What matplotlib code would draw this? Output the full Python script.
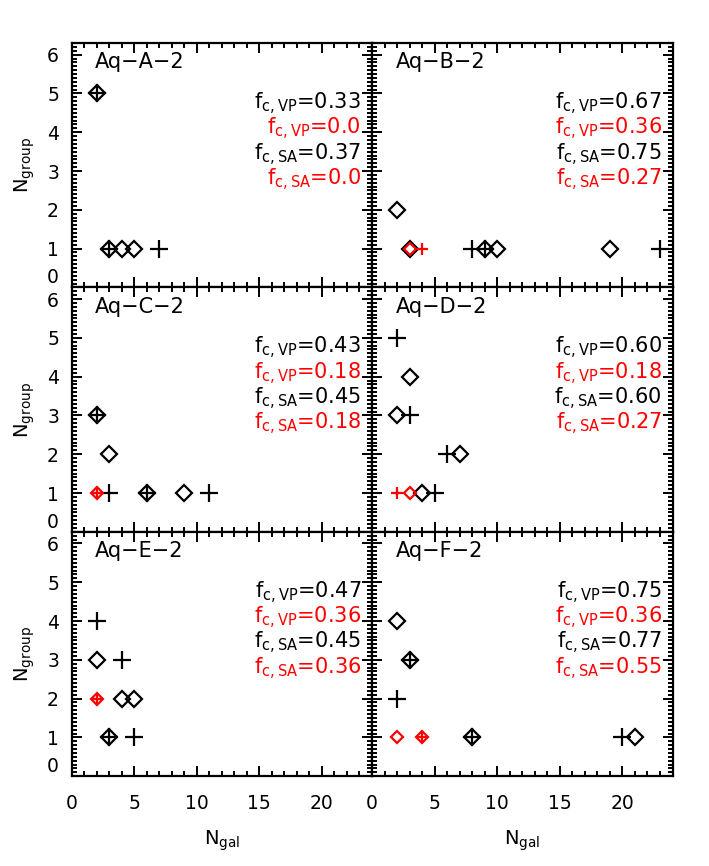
import matplotlib
matplotlib.use('Agg')
import matplotlib.pyplot as plt
from matplotlib.ticker import MultipleLocator

plt.rcParams['font.family'] = ['DejaVu Sans']
plt.rcParams['mathtext.fontset'] = 'dejavusans'
plt.rcParams['mathtext.default'] = 'regular'

names = ['Aq\u2212A\u22122', 'Aq\u2212B\u22122', 'Aq\u2212C\u22122',
         'Aq\u2212D\u22122', 'Aq\u2212E\u22122', 'Aq\u2212F\u22122']

# black diamonds
bd_x = [[2, 3, 4, 5], [2, 3, 9, 10, 19], [2, 3, 6, 9], [3, 2, 7, 4], [2, 4, 5, 3], [2, 3, 8, 21]]
bd_y = [[5, 1, 1, 1], [2, 1, 1, 1, 1], [3, 2, 1, 1], [4, 3, 2, 1], [3, 2, 2, 1], [4, 3, 1, 1]]
# black plus
bp_x = [[2, 3, 7], [8, 9, 23], [2, 3, 6, 11], [2, 3, 6, 5], [2, 4, 3, 5], [3, 2, 8, 20]]
bp_y = [[5, 1, 1], [1, 1, 1], [3, 1, 1, 1], [5, 3, 2, 1], [4, 3, 1, 1], [3, 2, 1, 1]]
# red diamonds
rd_x = [[], [3], [2], [3], [2], [2, 4]]
rd_y = [[], [1], [1], [1], [2], [1, 1]]
# red plus
rp_x = [[], [4], [2], [2], [2], [4]]
rp_y = [[], [1], [1], [1], [2], [1]]

fc_vp = ['0.33', '0.67', '0.43', '0.60', '0.47', '0.75']
fc_vp_red = ['0.0', '0.36', '0.18', '0.18', '0.36', '0.36']
fc_sa = ['0.37', '0.75', '0.45', '0.60', '0.45', '0.77']
fc_sa_red = ['0.0', '0.27', '0.18', '0.27', '0.36', '0.55']

fig = plt.figure(figsize=(7.09, 8.66), dpi=100)

x0, w = 71.5 / 709, 300.5 / 709
y_top, h = 43 / 866, 244.4 / 866

for i in range(6):
    row, col = i // 2, i % 2
    left = x0 + col * w
    bottom = 1 - y_top - (row + 1) * h
    ax = fig.add_axes([left, bottom, w, h])

    ax.plot(bd_x[i], bd_y[i], ls='none', marker='D', ms=8.6, mfc='none',
            mec='black', mew=1.6)
    ax.plot(bp_x[i], bp_y[i], ls='none', marker='+', ms=12.5,
            mec='black', mew=1.6)
    if rd_x[i]:
        ax.plot(rd_x[i], rd_y[i], ls='none', marker='D', ms=5.8, mfc='none',
                mec='red', mew=1.6)
        ax.plot(rp_x[i], rp_y[i], ls='none', marker='+', ms=8.5,
                mec='red', mew=1.6)

    ax.set_xlim(0, 24)
    ax.set_ylim(0, 6.3)
    ax.xaxis.set_major_locator(MultipleLocator(5))
    ax.xaxis.set_minor_locator(MultipleLocator(1))
    ax.yaxis.set_major_locator(MultipleLocator(1))
    ax.yaxis.set_minor_locator(MultipleLocator(0.1))
    ax.tick_params(which='both', direction='in', top=True, right=True,
                   width=1.4, labelsize=13.5)
    ax.tick_params(which='major', length=7)
    ax.tick_params(which='minor', length=3.5)
    ax.tick_params(axis='x', pad=13)
    ax.tick_params(axis='y', pad=9)
    for sp in ax.spines.values():
        sp.set_linewidth(1.6)

    if col == 0:
        ax.set_ylabel('N$_{\\rm group}$', fontsize=14, labelpad=7)
        for lab in ax.get_yticklabels():
            if lab.get_position()[1] == 0:
                lab.set_verticalalignment('bottom')
    else:
        ax.set_yticklabels([])
    if row == 2:
        ax.set_xlabel('N$_{\\rm gal}$', fontsize=14, labelpad=11)
    else:
        ax.set_xticklabels([])

    ax.text(0.078, 0.896, names[i], transform=ax.transAxes, fontsize=15,
            ha='left', va='baseline')
    lines = [('f$_{\\rm c,VP}$=' + fc_vp[i], 'black'),
             ('f$_{\\rm c,VP}$=' + fc_vp_red[i], 'red'),
             ('f$_{\\rm c,SA}$=' + fc_sa[i], 'black'),
             ('f$_{\\rm c,SA}$=' + fc_sa_red[i], 'red')]
    for k, (txt, c) in enumerate(lines):
        ax.text(0.964, 0.729 - k * 0.104, txt, transform=ax.transAxes,
                fontsize=15, color=c, ha='right', va='baseline')

fig.savefig('out.png', dpi=100)
